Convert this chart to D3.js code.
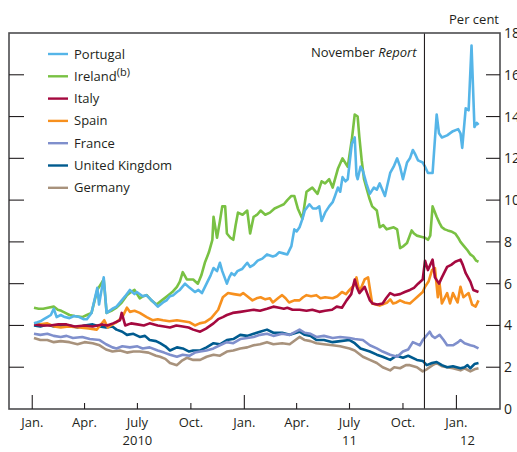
<!DOCTYPE html>
<html><head><meta charset="utf-8">
<script src="https://cdn.jsdelivr.net/npm/d3@7"></script>
<style>body{margin:0;background:#fff}svg{display:block}text{font-family:"Open Sans","Noto Sans",sans-serif;fill:#231f20}</style>
</head><body><svg id="c" width="517" height="452"></svg>
<script>
const yTicks=[0,2,4,6,8,10,12,14,16,18];
const monthTicks=["2010-01-01","2010-04-01","2010-07-01","2010-10-01","2011-01-01","2011-04-01","2011-07-01","2011-10-01","2012-01-01"];
const monthLabels=["Jan.","Apr.","July","Oct.","Jan.","Apr.","July","Oct.","Jan."];
const yearLabels=[["2010-07-01","2010"],["2011-07-01","11"],["2012-01-20","12"]];
const reportDate="2011-11-07";
const seriesNames=["Portugal","Ireland","Italy","Spain","France","United Kingdom","Germany"];
const seriesColors=["#55b5e8","#79c143","#a5093f","#f7901e","#7f8fcc","#005b8f","#a8927c"];
const portugal=[["2010-01-04",4.1],["2010-01-10",4.15],["2010-01-15",4.2],["2010-01-21",4.3],["2010-01-27",4.4],["2010-02-02",4.5],["2010-02-07",4.8],["2010-02-12",4.4],["2010-02-19",4.5],["2010-02-26",4.4],["2010-03-06",4.35],["2010-03-14",4.45],["2010-03-23",4.4],["2010-03-30",4.3],["2010-04-05",4.3],["2010-04-13",4.6],["2010-04-23",5.8],["2010-04-26",5.0],["2010-05-04",6.3],["2010-05-09",4.6],["2010-05-14",4.7],["2010-05-19",4.8],["2010-05-26",4.9],["2010-06-04",5.2],["2010-06-10",5.4],["2010-06-18",5.7],["2010-06-26",5.5],["2010-06-30",5.6],["2010-07-10",5.4],["2010-07-16",5.45],["2010-07-22",5.3],["2010-07-29",5.1],["2010-08-05",4.9],["2010-08-14",5.1],["2010-08-20",5.2],["2010-08-26",5.4],["2010-09-01",5.45],["2010-09-07",5.6],["2010-09-12",5.7],["2010-09-21",6.0],["2010-09-29",5.8],["2010-10-08",5.6],["2010-10-14",5.7],["2010-10-20",5.55],["2010-10-28",6.0],["2010-11-04",6.4],["2010-11-09",6.75],["2010-11-15",6.6],["2010-11-20",7.0],["2010-11-24",6.6],["2010-12-02",6.0],["2010-12-06",6.3],["2010-12-10",6.5],["2010-12-15",6.4],["2010-12-20",6.6],["2010-12-28",6.7],["2011-01-06",7.0],["2011-01-11",6.8],["2011-01-17",6.9],["2011-01-24",7.1],["2011-02-01",7.2],["2011-02-09",7.4],["2011-02-19",7.3],["2011-02-24",7.35],["2011-03-02",7.5],["2011-03-09",7.45],["2011-03-16",7.4],["2011-03-23",7.8],["2011-03-28",8.6],["2011-04-01",8.5],["2011-04-06",8.7],["2011-04-11",9.1],["2011-04-15",9.5],["2011-04-23",9.8],["2011-04-29",9.6],["2011-05-05",9.6],["2011-05-10",9.7],["2011-05-14",9.0],["2011-05-20",9.4],["2011-05-27",9.7],["2011-06-02",9.9],["2011-06-06",10.2],["2011-06-11",10.6],["2011-06-15",10.4],["2011-06-19",11.1],["2011-06-24",10.9],["2011-06-28",11.0],["2011-07-05",12.7],["2011-07-10",13.0],["2011-07-13",11.2],["2011-07-15",11.0],["2011-07-20",11.6],["2011-07-24",11.4],["2011-07-30",10.8],["2011-08-05",10.3],["2011-08-12",10.6],["2011-08-17",10.5],["2011-08-22",10.8],["2011-08-31",10.2],["2011-09-04",10.7],["2011-09-09",11.3],["2011-09-15",11.6],["2011-09-21",12.0],["2011-09-26",11.6],["2011-10-01",11.0],["2011-10-08",11.8],["2011-10-13",12.0],["2011-10-18",12.4],["2011-10-22",12.2],["2011-10-27",11.9],["2011-11-04",11.8],["2011-11-08",11.6],["2011-11-13",11.3],["2011-11-21",11.3],["2011-11-28",14.1],["2011-12-02",13.2],["2011-12-07",13.0],["2011-12-16",13.1],["2011-12-26",13.3],["2012-01-04",13.4],["2012-01-08",13.2],["2012-01-11",12.5],["2012-01-17",14.4],["2012-01-22",14.3],["2012-01-27",17.4],["2012-02-01",13.5],["2012-02-05",13.7],["2012-02-08",13.6]];
const ireland=[["2010-01-04",4.85],["2010-01-12",4.8],["2010-01-20",4.8],["2010-01-28",4.85],["2010-02-07",4.9],["2010-02-14",4.75],["2010-02-20",4.7],["2010-02-27",4.6],["2010-03-06",4.5],["2010-03-15",4.45],["2010-03-28",4.4],["2010-04-05",4.5],["2010-04-13",4.6],["2010-04-23",5.7],["2010-05-04",6.2],["2010-05-09",4.6],["2010-05-17",4.7],["2010-05-26",4.85],["2010-06-04",5.1],["2010-06-13",5.45],["2010-06-20",5.6],["2010-06-26",5.7],["2010-07-05",5.3],["2010-07-11",5.4],["2010-07-17",5.45],["2010-07-25",5.2],["2010-08-03",5.0],["2010-08-12",5.2],["2010-08-21",5.4],["2010-08-30",5.6],["2010-09-07",5.85],["2010-09-12",6.1],["2010-09-17",6.55],["2010-09-24",6.2],["2010-10-05",6.2],["2010-10-13",6.0],["2010-10-19",6.4],["2010-10-25",7.0],["2010-11-01",7.5],["2010-11-07",8.1],["2010-11-09",9.2],["2010-11-15",8.2],["2010-11-20",9.0],["2010-11-24",9.7],["2010-11-29",9.7],["2010-12-02",8.4],["2010-12-08",8.2],["2010-12-13",8.1],["2010-12-17",8.8],["2010-12-21",9.4],["2010-12-29",9.3],["2011-01-06",9.5],["2011-01-11",8.4],["2011-01-17",9.2],["2011-01-23",9.3],["2011-01-29",9.5],["2011-02-06",9.3],["2011-02-14",9.4],["2011-02-22",9.6],["2011-03-02",9.7],["2011-03-10",9.8],["2011-03-16",10.0],["2011-03-23",10.2],["2011-03-28",10.2],["2011-04-03",9.6],["2011-04-11",9.1],["2011-04-18",10.4],["2011-04-23",10.5],["2011-04-28",10.6],["2011-05-07",10.3],["2011-05-14",10.9],["2011-05-20",10.8],["2011-05-27",11.0],["2011-06-02",10.6],["2011-06-07",11.1],["2011-06-11",11.5],["2011-06-19",12.0],["2011-06-28",11.6],["2011-07-05",12.9],["2011-07-10",14.1],["2011-07-15",14.0],["2011-07-18",13.0],["2011-07-22",11.9],["2011-07-26",11.0],["2011-07-31",10.5],["2011-08-04",10.1],["2011-08-09",9.7],["2011-08-17",9.5],["2011-08-22",8.7],["2011-08-28",8.8],["2011-09-03",8.6],["2011-09-09",8.65],["2011-09-15",8.7],["2011-09-21",8.6],["2011-09-26",7.7],["2011-10-02",7.8],["2011-10-08",7.95],["2011-10-16",8.55],["2011-10-20",8.4],["2011-10-25",8.3],["2011-11-01",8.25],["2011-11-08",8.2],["2011-11-13",8.1],["2011-11-17",8.3],["2011-11-21",9.7],["2011-11-28",9.2],["2011-12-03",8.9],["2011-12-07",8.7],["2011-12-12",8.6],["2011-12-17",8.55],["2011-12-23",8.5],["2011-12-30",8.4],["2012-01-04",8.2],["2012-01-08",8.0],["2012-01-14",7.8],["2012-01-20",7.6],["2012-01-25",7.4],["2012-01-30",7.3],["2012-02-04",7.1],["2012-02-08",7.05]];
const italy=[["2010-01-04",4.05],["2010-01-18",4.0],["2010-02-01",4.0],["2010-02-15",4.05],["2010-03-01",4.05],["2010-03-15",3.95],["2010-04-01",4.0],["2010-04-15",3.95],["2010-05-01",4.05],["2010-05-10",4.0],["2010-05-20",4.1],["2010-06-01",4.25],["2010-06-04",4.6],["2010-06-10",4.0],["2010-06-20",4.1],["2010-07-01",4.05],["2010-07-12",4.0],["2010-07-22",4.1],["2010-08-05",4.0],["2010-08-16",3.95],["2010-08-26",3.9],["2010-09-06",4.0],["2010-09-17",3.95],["2010-09-27",3.9],["2010-10-05",3.8],["2010-10-17",3.7],["2010-10-27",3.85],["2010-11-09",4.1],["2010-11-17",4.3],["2010-11-25",4.4],["2010-12-02",4.5],["2010-12-12",4.6],["2010-12-25",4.65],["2011-01-06",4.7],["2011-01-17",4.75],["2011-01-28",4.7],["2011-02-09",4.8],["2011-02-20",4.9],["2011-03-02",4.85],["2011-03-10",4.8],["2011-03-16",4.85],["2011-03-25",4.75],["2011-04-06",4.75],["2011-04-18",4.7],["2011-04-28",4.75],["2011-05-10",4.65],["2011-05-20",4.7],["2011-06-01",4.75],["2011-06-09",4.9],["2011-06-18",4.85],["2011-06-26",5.2],["2011-07-04",5.5],["2011-07-10",6.2],["2011-07-14",5.8],["2011-07-18",5.55],["2011-07-27",5.85],["2011-08-05",5.2],["2011-08-10",5.05],["2011-08-18",5.0],["2011-08-27",5.05],["2011-09-02",5.3],["2011-09-09",5.55],["2011-09-16",5.45],["2011-09-26",5.5],["2011-10-04",5.6],["2011-10-13",5.7],["2011-10-20",5.8],["2011-10-27",6.0],["2011-11-04",6.2],["2011-11-08",7.1],["2011-11-13",6.65],["2011-11-21",7.15],["2011-11-25",6.3],["2011-12-02",6.0],["2011-12-07",6.3],["2011-12-16",6.8],["2011-12-23",6.9],["2011-12-30",7.05],["2012-01-08",7.15],["2012-01-12",6.9],["2012-01-17",6.5],["2012-01-25",6.1],["2012-01-30",5.7],["2012-02-08",5.6]];
const spain=[["2010-01-04",4.1],["2010-01-15",4.05],["2010-01-27",4.1],["2010-02-08",3.95],["2010-02-19",3.9],["2010-03-05",3.95],["2010-03-23",3.9],["2010-04-08",3.85],["2010-04-22",3.8],["2010-05-05",4.25],["2010-05-11",3.9],["2010-05-19",4.05],["2010-05-26",4.15],["2010-06-05",4.4],["2010-06-13",4.85],["2010-06-18",4.65],["2010-06-26",4.7],["2010-07-05",4.6],["2010-07-17",4.4],["2010-07-27",4.25],["2010-08-05",4.3],["2010-08-14",4.25],["2010-08-25",4.2],["2010-09-07",4.25],["2010-09-18",4.2],["2010-09-29",4.15],["2010-10-08",4.0],["2010-10-16",4.1],["2010-10-25",4.15],["2010-11-05",4.35],["2010-11-17",4.75],["2010-11-25",5.35],["2010-12-04",5.55],["2010-12-14",5.5],["2010-12-25",5.45],["2010-12-30",5.55],["2011-01-06",5.4],["2011-01-15",5.2],["2011-01-22",5.3],["2011-01-29",5.35],["2011-02-06",5.25],["2011-02-14",5.3],["2011-02-19",5.1],["2011-03-02",5.35],["2011-03-07",5.45],["2011-03-13",5.3],["2011-03-19",5.1],["2011-03-28",5.2],["2011-04-06",5.2],["2011-04-12",5.35],["2011-04-18",5.45],["2011-04-26",5.4],["2011-05-05",5.45],["2011-05-12",5.3],["2011-05-20",5.35],["2011-06-02",5.3],["2011-06-10",5.4],["2011-06-18",5.6],["2011-06-25",5.5],["2011-07-01",5.7],["2011-07-08",5.9],["2011-07-13",6.3],["2011-07-18",5.6],["2011-07-27",6.2],["2011-08-02",6.3],["2011-08-09",5.05],["2011-08-15",5.0],["2011-08-22",4.95],["2011-09-04",5.1],["2011-09-09",5.25],["2011-09-14",5.05],["2011-09-20",5.1],["2011-09-26",5.2],["2011-10-04",5.1],["2011-10-13",5.05],["2011-10-19",5.2],["2011-10-25",5.35],["2011-11-04",5.6],["2011-11-08",5.85],["2011-11-14",6.1],["2011-11-20",6.65],["2011-11-25",6.75],["2011-11-30",5.35],["2011-12-03",6.0],["2011-12-07",5.05],["2011-12-16",5.55],["2011-12-21",5.05],["2011-12-26",5.55],["2012-01-03",5.1],["2012-01-08",5.85],["2012-01-13",5.35],["2012-01-22",5.55],["2012-01-28",5.0],["2012-02-03",4.9],["2012-02-08",5.2]];
const france=[["2010-01-04",3.6],["2010-01-15",3.55],["2010-01-27",3.6],["2010-02-07",3.5],["2010-02-19",3.45],["2010-03-01",3.5],["2010-03-12",3.4],["2010-03-28",3.45],["2010-04-10",3.35],["2010-04-27",3.3],["2010-05-08",3.1],["2010-05-19",2.95],["2010-05-26",2.9],["2010-06-05",3.0],["2010-06-18",2.95],["2010-07-01",3.0],["2010-07-10",2.9],["2010-07-22",2.95],["2010-08-05",2.8],["2010-08-16",2.7],["2010-08-26",2.6],["2010-09-07",2.5],["2010-09-17",2.6],["2010-09-29",2.55],["2010-10-08",2.7],["2010-10-17",2.75],["2010-10-28",2.8],["2010-11-09",2.9],["2010-11-20",3.05],["2010-12-02",3.2],["2010-12-13",3.15],["2010-12-25",3.35],["2011-01-06",3.4],["2011-01-17",3.45],["2011-01-28",3.55],["2011-02-09",3.6],["2011-02-20",3.5],["2011-03-07",3.6],["2011-03-20",3.55],["2011-04-06",3.8],["2011-04-15",3.65],["2011-04-25",3.6],["2011-05-05",3.45],["2011-05-18",3.5],["2011-06-02",3.4],["2011-06-15",3.45],["2011-07-01",3.4],["2011-07-10",3.35],["2011-07-24",3.3],["2011-08-05",3.05],["2011-08-17",2.9],["2011-08-27",2.75],["2011-09-09",2.6],["2011-09-21",2.5],["2011-10-01",2.75],["2011-10-10",2.85],["2011-10-18",3.2],["2011-10-30",3.05],["2011-11-04",3.3],["2011-11-16",3.7],["2011-11-20",3.5],["2011-11-25",3.4],["2011-12-03",3.55],["2011-12-10",3.3],["2011-12-16",3.05],["2011-12-26",3.05],["2012-01-04",3.2],["2012-01-08",3.3],["2012-01-15",3.15],["2012-01-25",3.05],["2012-02-01",3.0],["2012-02-08",2.9]];
const uk=[["2010-01-04",4.0],["2010-01-15",3.95],["2010-01-27",4.05],["2010-02-07",3.95],["2010-02-19",4.0],["2010-03-06",4.0],["2010-03-20",3.9],["2010-04-01",4.0],["2010-04-15",4.05],["2010-04-27",3.95],["2010-05-08",3.9],["2010-05-19",3.95],["2010-05-26",3.8],["2010-06-05",3.7],["2010-06-13",3.55],["2010-06-24",3.6],["2010-07-05",3.45],["2010-07-14",3.5],["2010-07-22",3.3],["2010-08-02",3.25],["2010-08-09",3.15],["2010-08-18",3.0],["2010-08-26",2.8],["2010-09-07",2.95],["2010-09-17",2.9],["2010-09-28",2.75],["2010-10-05",2.8],["2010-10-17",2.8],["2010-10-28",2.95],["2010-11-09",3.15],["2010-11-20",3.1],["2010-12-02",3.3],["2010-12-13",3.35],["2010-12-25",3.55],["2011-01-06",3.5],["2011-01-17",3.6],["2011-01-28",3.7],["2011-02-09",3.8],["2011-02-20",3.65],["2011-03-07",3.65],["2011-03-20",3.55],["2011-04-06",3.7],["2011-04-15",3.55],["2011-04-25",3.5],["2011-05-05",3.3],["2011-05-18",3.3],["2011-06-02",3.2],["2011-06-15",3.25],["2011-07-01",3.3],["2011-07-10",3.15],["2011-07-20",2.9],["2011-08-05",2.75],["2011-08-17",2.6],["2011-08-27",2.5],["2011-09-09",2.35],["2011-09-20",2.55],["2011-10-01",2.45],["2011-10-10",2.55],["2011-10-25",2.35],["2011-11-04",2.3],["2011-11-11",2.1],["2011-11-20",2.2],["2011-11-28",2.25],["2011-12-07",2.1],["2011-12-16",2.0],["2011-12-26",2.05],["2012-01-08",1.95],["2012-01-15",2.0],["2012-01-20",2.1],["2012-01-25",1.95],["2012-02-01",2.15],["2012-02-08",2.2]];
const germany=[["2010-01-04",3.4],["2010-01-15",3.3],["2010-01-27",3.3],["2010-02-07",3.2],["2010-02-19",3.25],["2010-03-06",3.2],["2010-03-20",3.1],["2010-04-01",3.2],["2010-04-15",3.15],["2010-04-27",3.05],["2010-05-08",2.85],["2010-05-19",2.75],["2010-06-01",2.8],["2010-06-13",2.7],["2010-06-24",2.75],["2010-07-05",2.75],["2010-07-20",2.7],["2010-08-02",2.55],["2010-08-09",2.5],["2010-08-18",2.4],["2010-08-26",2.2],["2010-09-07",2.1],["2010-09-15",2.3],["2010-09-24",2.45],["2010-10-05",2.35],["2010-10-17",2.35],["2010-10-28",2.5],["2010-11-09",2.6],["2010-11-20",2.55],["2010-12-02",2.75],["2010-12-13",2.8],["2010-12-25",2.9],["2011-01-06",2.95],["2011-01-17",3.05],["2011-01-28",3.1],["2011-02-09",3.2],["2011-02-20",3.1],["2011-03-07",3.15],["2011-03-20",3.1],["2011-04-06",3.45],["2011-04-15",3.3],["2011-04-25",3.25],["2011-05-05",3.15],["2011-05-18",3.1],["2011-06-02",3.05],["2011-06-15",3.0],["2011-07-01",2.9],["2011-07-10",2.8],["2011-07-24",2.5],["2011-08-05",2.35],["2011-08-17",2.2],["2011-08-27",2.0],["2011-09-09",1.85],["2011-09-16",2.0],["2011-09-26",1.95],["2011-10-06",2.1],["2011-10-13",2.1],["2011-10-25",2.0],["2011-11-04",1.8],["2011-11-11",1.9],["2011-11-21",2.1],["2011-11-28",2.2],["2011-12-07",2.05],["2011-12-16",2.0],["2011-12-26",1.95],["2012-01-08",1.85],["2012-01-15",1.95],["2012-01-25",1.8],["2012-02-01",1.9],["2012-02-08",1.95]];
const seriesData=[portugal,ireland,italy,spain,france,uk,germany];

const parse=d3.timeParse("%Y-%m-%d");
const svg=d3.select("#c");
const L=9,R=500,T=33,B=409;
const x=d3.scaleTime().domain([parse("2009-11-22"),parse("2012-03-16")]).range([L,R]);
const y=d3.scaleLinear().domain([0,18]).range([B,T]);

const line=d3.line().x(d=>x(parse(d[0]))).y(d=>y(d[1]));
for(let i=seriesData.length-1;i>=0;i--){
  svg.append("path").datum(seriesData[i]).attr("d",line).attr("fill","none")
    .attr("stroke",seriesColors[i]).attr("stroke-width",2.6).attr("stroke-linejoin","round");
}
svg.append("line").attr("x1",x(parse(reportDate))).attr("x2",x(parse(reportDate))).attr("y1",T).attr("y2",B).attr("stroke","#231f20").attr("stroke-width",1.1);
svg.append("text").attr("x",x(parse(reportDate))-8).attr("y",57).attr("text-anchor","end").attr("font-size",13)
  .call(t=>{t.append("tspan").text("November ");t.append("tspan").attr("font-style","italic").text("Report");});

svg.append("rect").attr("x",L).attr("y",T).attr("width",R-L).attr("height",B-T).attr("fill","none").attr("stroke","#4d4d4f").attr("stroke-width",1.6);

const inner=yTicks.slice(1,-1);
svg.selectAll(".lt").data(inner).enter().append("line").attr("x1",L).attr("x2",L+15).attr("y1",d=>y(d)).attr("y2",d=>y(d)).attr("stroke","#231f20").attr("stroke-width",1.1);
svg.selectAll(".rt").data(inner).enter().append("line").attr("x1",R-14).attr("x2",R).attr("y1",d=>y(d)).attr("y2",d=>y(d)).attr("stroke","#231f20").attr("stroke-width",1.1);
svg.selectAll(".yl").data(yTicks).enter().append("text").attr("x",504).attr("y",d=>y(d)+5).attr("font-size",14).text(d=>d);
svg.append("text").attr("x",499).attr("y",24).attr("text-anchor","end").attr("font-size",13).text("Per cent");

monthTicks.forEach((m,i)=>{
  const xx=x(parse(m));const isJan=m.endsWith("01-01");
  svg.append("line").attr("x1",xx).attr("x2",xx).attr("y1",isJan?B-14:B-6).attr("y2",B).attr("stroke","#231f20").attr("stroke-width",1.1);
  svg.append("text").attr("x",xx).attr("y",427).attr("text-anchor","middle").attr("font-size",13).text(monthLabels[i]);
});
yearLabels.forEach(d=>{
  svg.append("text").attr("x",x(parse(d[0]))).attr("y",445).attr("text-anchor","middle").attr("font-size",13).text(d[1]);
});

seriesNames.forEach((n,i)=>{
  const yy=54+i*22.3;
  svg.append("line").attr("x1",48).attr("x2",68).attr("y1",yy).attr("y2",yy).attr("stroke",seriesColors[i]).attr("stroke-width",2.4);
  const t=svg.append("text").attr("x",74).attr("y",yy+4.5).attr("font-size",13).text(n);
  if(n==="Ireland"){t.append("tspan").attr("dy",-5).attr("font-size",11).text("(b)");}
});
</script></body></html>
